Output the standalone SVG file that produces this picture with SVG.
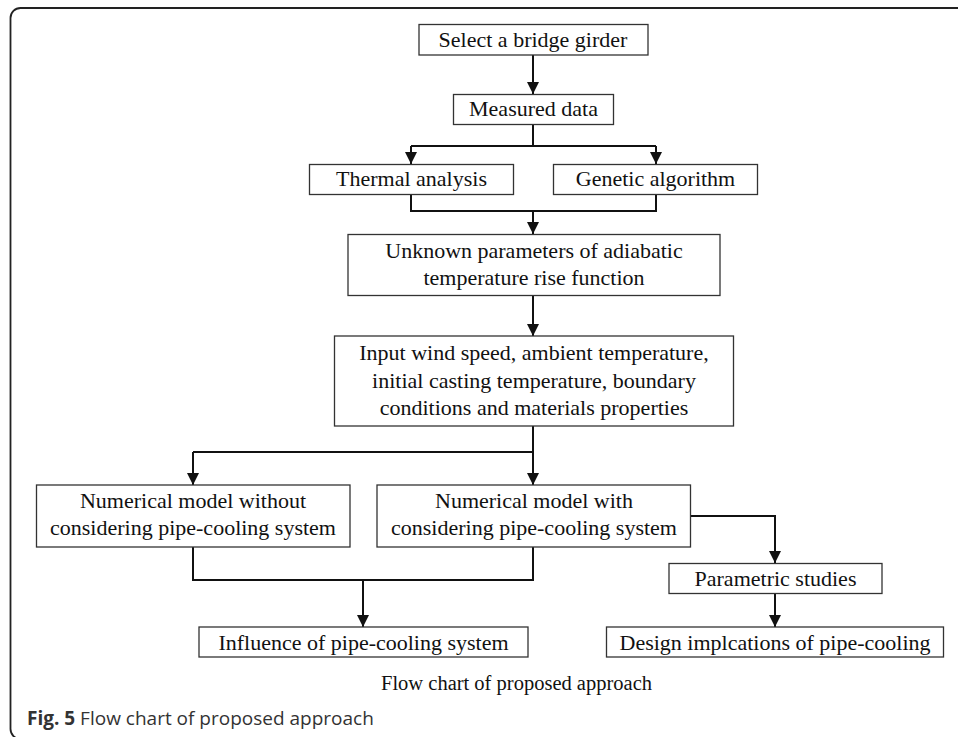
<svg xmlns="http://www.w3.org/2000/svg" width="958" height="737" viewBox="0 0 958 737">
<defs>
<marker id="ah" markerUnits="userSpaceOnUse" markerWidth="12" markerHeight="12" refX="12" refY="6" orient="auto">
<path d="M0,0 L12,6 L0,12 z" fill="#111"/>
</marker>
<style>
.box{fill:#fff;stroke:#333;stroke-width:1.3}
.t{font-family:"Liberation Serif","Times New Roman",serif;font-size:22px;fill:#111;text-anchor:middle}
.c{fill:none;stroke:#111;stroke-width:2}
.a{marker-end:url(#ah)}
</style>
</defs>
<rect x="10.5" y="8" width="1000" height="731" rx="10" fill="#fff" stroke="#222" stroke-width="1.8"/>
<g id="connectors">
<path class="c a" d="M533,55 V94"/>
<path class="c" d="M533,124 V146 M411,146 H656"/>
<path class="c a" d="M411,146 V164"/>
<path class="c a" d="M656,146 V164"/>
<path class="c" d="M411,194 V211 H656 V194"/>
<path class="c a" d="M533,211 V234"/>
<path class="c a" d="M533,296 V336"/>
<path class="c" d="M533,426 V452 H193"/>
<path class="c a" d="M193,452 V485"/>
<path class="c a" d="M533,452 V485"/>
<path class="c" d="M193,547 V580 H533 V547"/>
<path class="c a" d="M363,580 V627"/>
<path class="c a" d="M691,516 H775 V563"/>
<path class="c a" d="M775,593 V627"/>
</g>
<g id="n1"><rect class="box" x="419" y="24.5" width="229" height="30.5"/><text class="t" x="533" y="47">Select a bridge girder</text></g>
<g id="n2"><rect class="box" x="453.5" y="94.5" width="160" height="30"/><text class="t" x="533.5" y="116">Measured data</text></g>
<g id="n3"><rect class="box" x="309.5" y="164.5" width="204" height="30"/><text class="t" x="411.5" y="186">Thermal analysis</text></g>
<g id="n4"><rect class="box" x="553.5" y="164.5" width="204" height="30"/><text class="t" x="655.5" y="186">Genetic algorithm</text></g>
<g id="n5"><rect class="box" x="348" y="234.5" width="372" height="61"/><text class="t" x="534" y="258">Unknown parameters of adiabatic</text><text class="t" x="534" y="285">temperature rise function</text></g>
<g id="n6"><rect class="box" x="334.5" y="336" width="399" height="90"/><text class="t" x="534" y="360">Input wind speed, ambient temperature,</text><text class="t" x="534" y="387.5">initial casting temperature, boundary</text><text class="t" x="534" y="415">conditions and materials properties</text></g>
<g id="n7"><rect class="box" x="36.5" y="485" width="313.5" height="62"/><text class="t" x="193" y="507.5">Numerical model without</text><text class="t" x="193" y="535">considering pipe-cooling system</text></g>
<g id="n8"><rect class="box" x="377" y="485" width="313.5" height="62"/><text class="t" x="534" y="507.5">Numerical model with</text><text class="t" x="534" y="535">considering pipe-cooling system</text></g>
<g id="n9"><rect class="box" x="199" y="627" width="329" height="30"/><text class="t" x="363.5" y="650">Influence of pipe-cooling system</text></g>
<g id="n10"><rect class="box" x="669" y="563.5" width="213" height="30"/><text class="t" x="775.5" y="586">Parametric studies</text></g>
<g id="n11"><rect class="box" x="606.5" y="627" width="337" height="30"/><text class="t" x="775" y="650">Design implcations of pipe-cooling</text></g>
<text class="t" x="516.5" y="690" style="font-size:20.5px">Flow chart of proposed approach</text>
<text x="27" y="725" font-family="'Open Sans','Noto Sans',sans-serif" font-size="19" fill="#333"><tspan font-weight="bold">Fig. 5</tspan> Flow chart of proposed approach</text>
</svg>
